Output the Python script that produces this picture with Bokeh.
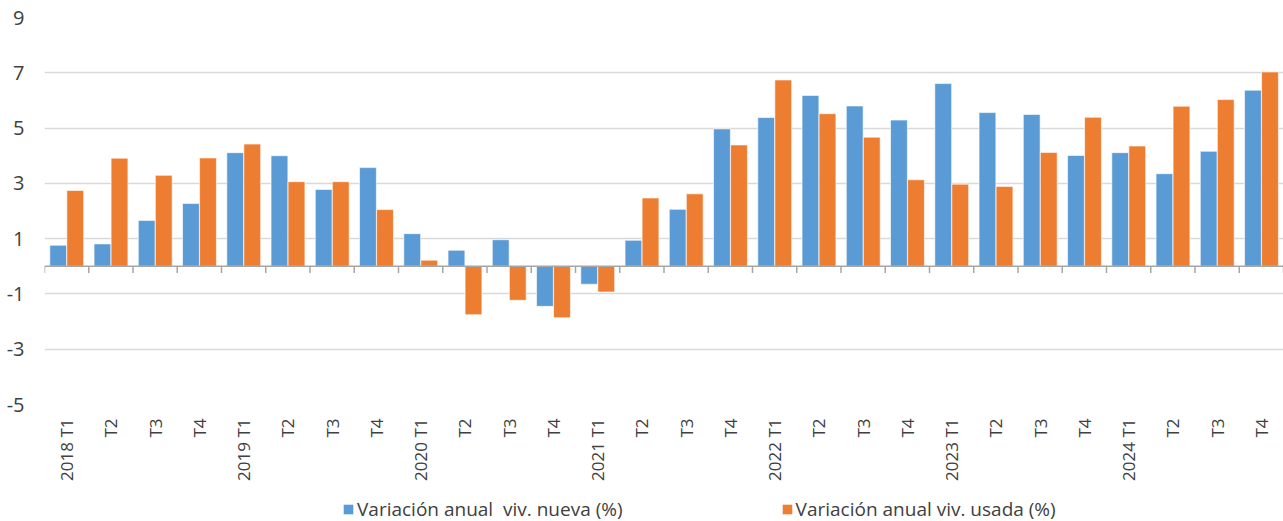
import numpy as np
from bokeh.plotting import figure
from bokeh.layouts import column
from bokeh.models import (ColumnDataSource, Range1d, FixedTicker, Span, Legend, LegendItem)
from bokeh.transform import dodge
from bokeh.embed import file_html
from bokeh.resources import INLINE

categories = ["2018 T1", "T2", "T3", "T4",
              "2019 T1", "T2", "T3", "T4",
              "2020 T1", "T2", "T3", "T4",
              "2021 T1", "T2", "T3", "T4",
              "2022 T1", "T2", "T3", "T4",
              "2023 T1", "T2", "T3", "T4",
              "2024 T1", "T2", "T3", "T4"]
viv_nueva = [0.76, 0.81, 1.66, 2.27, 4.11, 4.00, 2.78, 3.57,
             1.18, 0.58, 0.96, -1.45, -0.65, 0.94, 2.06, 4.97,
             5.38, 6.18, 5.80, 5.29, 6.61, 5.56, 5.49, 4.01,
             4.11, 3.35, 4.16, 6.37]
viv_usada = [2.74, 3.91, 3.29, 3.92, 4.42, 3.06, 3.06, 2.05,
             0.22, -1.75, -1.23, -1.86, -0.93, 2.47, 2.62, 4.39,
             6.74, 5.52, 4.67, 3.13, 2.97, 2.89, 4.12, 5.39,
             4.35, 5.79, 6.03, 7.03]
y_ticks = [-5, -3, -1, 1, 3, 5, 7, 9]
label_nueva = "Variación anual  viv. nueva (%)"
label_usada = "Variación anual viv. usada (%)"

BLUE = "#5B9BD5"
ORANGE = "#ED7D31"
FONT = "Open Sans"
TXT = "#404040"

n = len(categories)
centers = np.arange(n) + 0.5
src = ColumnDataSource(dict(x=centers, nueva=viv_nueva, usada=viv_usada))

p = figure(frame_width=1239, frame_height=387, output_backend="svg", toolbar_location=None,
           x_range=Range1d(0, n), y_range=Range1d(-5, 9),
           min_border_left=44, min_border_right=0, min_border_top=17, min_border_bottom=80)
p.outline_line_color = None
p.background_fill_color = "white"

r1 = p.vbar(x=dodge("x", -0.19, range=p.x_range), top="nueva", bottom=0, width=0.38,
            source=src, fill_color=BLUE, line_color="white", line_alpha=0.6, line_width=1)
r2 = p.vbar(x=dodge("x", 0.195, range=p.x_range), top="usada", bottom=0, width=0.38,
            source=src, fill_color=ORANGE, line_color="white", line_alpha=0.6, line_width=1)

# zero axis line and category boundary ticks
p.add_layout(Span(location=0, dimension="width", line_color="#A6A6A6", line_width=1.5))
bounds = np.arange(n + 1)
p.segment(x0=bounds, y0=np.zeros(n + 1), x1=bounds, y1=np.full(n + 1, -0.24),
          line_color="#A6A6A6", line_width=1.5)

# y axis
p.yaxis.ticker = FixedTicker(ticks=y_ticks)
p.yaxis.major_label_overrides = {t: str(t) for t in y_ticks}
p.yaxis.axis_line_color = None
p.yaxis.major_tick_line_color = None
p.yaxis.minor_tick_line_color = None
p.yaxis.major_tick_out = 0
p.yaxis.major_tick_in = 0
p.yaxis.minor_tick_out = 0
p.yaxis.major_label_standoff = 20
p.yaxis.major_label_text_font = FONT
p.yaxis.major_label_text_font_size = "20px"
p.yaxis.major_label_text_color = TXT
p.ygrid.ticker = FixedTicker(ticks=y_ticks)
p.ygrid.grid_line_color = "#D9D9D9"
p.ygrid.grid_line_width = 1.5
p.xgrid.grid_line_color = None

# x axis
p.xaxis.ticker = FixedTicker(ticks=list(centers))
p.xaxis.major_label_overrides = {float(c): lab for c, lab in zip(centers, categories)}
p.xaxis.major_label_orientation = np.pi / 2
p.xaxis.axis_line_color = None
p.xaxis.major_tick_line_color = None
p.xaxis.minor_tick_line_color = None
p.xaxis.major_tick_out = 0
p.xaxis.major_tick_in = 0
p.xaxis.minor_tick_out = 0
p.xaxis.major_label_standoff = 14
p.xaxis.major_label_text_font = FONT
p.xaxis.major_label_text_font_size = "17px"
p.xaxis.major_label_text_color = TXT

# legend row (separate strip below the chart; its frame aligns with the chart frame)
lg = figure(width=1283, height=37, output_backend="svg", toolbar_location=None,
            x_range=Range1d(0, 1), y_range=Range1d(0, 1), x_axis_type=None, y_axis_type=None,
            min_border_left=0, min_border_right=0, min_border_top=0, min_border_bottom=0)
lg.outline_line_color = None
lg.xgrid.grid_line_color = None
lg.ygrid.grid_line_color = None
proxy = ColumnDataSource(dict(x=[5.0], top=[5.0]))
d1 = lg.vbar(x="x", top="top", width=0.1, source=proxy, fill_color=BLUE, line_color=None)
d2 = lg.vbar(x="x", top="top", width=0.1, source=proxy, fill_color=ORANGE, line_color=None)
legend = Legend(items=[LegendItem(label=label_nueva, renderers=[d1]),
                       LegendItem(label=label_usada, renderers=[d2])],
                orientation="horizontal", location=(298, -1),
                label_text_font=FONT, label_text_font_size="19px", label_text_color=TXT,
                glyph_width=12, glyph_height=12, spacing=158, padding=0, margin=0,
                border_line_color=None, background_fill_alpha=0,
                label_standoff=3, label_height=19)
lg.add_layout(legend, "center")

open("out.html", "w").write(file_html(column(p, lg, spacing=0), INLINE))
